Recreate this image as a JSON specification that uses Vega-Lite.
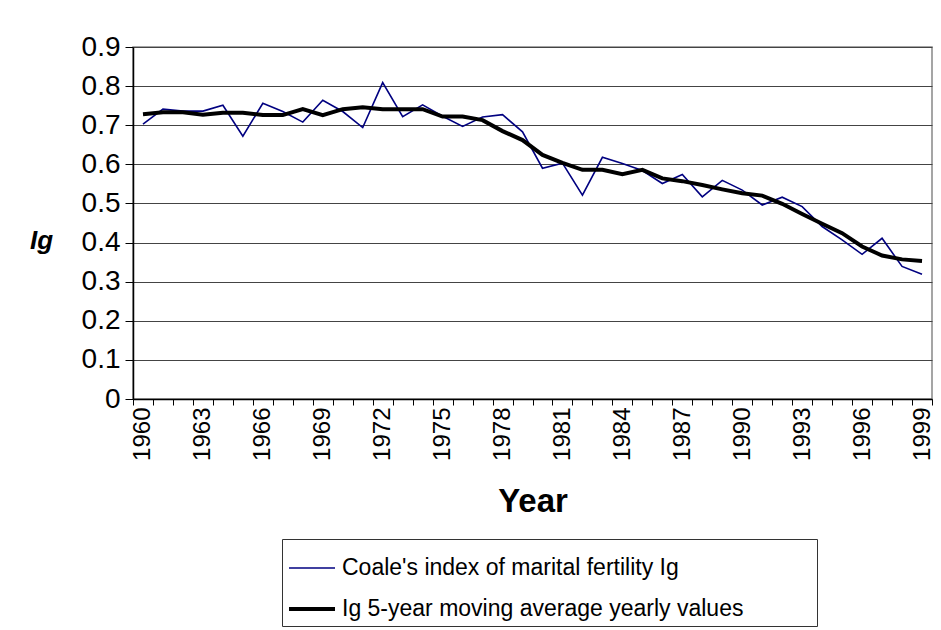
{
  "$schema": "https://vega.github.io/schema/vega-lite/v6.json",
  "autosize": "none",
  "width": 799,
  "height": 352,
  "padding": {"left": 133, "top": 47, "right": 9, "bottom": 231},
  "background": "white",
  "config": {
    "font": "Liberation Sans",
    "view": {"stroke": "#888", "strokeWidth": 1.5}
  },
  "data": {
    "values": [
      {"year": "1960", "ig": 0.703, "ma": 0.728},
      {"year": "1961", "ig": 0.741, "ma": 0.733},
      {"year": "1962", "ig": 0.736, "ma": 0.733},
      {"year": "1963", "ig": 0.736, "ma": 0.727},
      {"year": "1964", "ig": 0.751, "ma": 0.732},
      {"year": "1965", "ig": 0.672, "ma": 0.732},
      {"year": "1966", "ig": 0.756, "ma": 0.726},
      {"year": "1967", "ig": 0.735, "ma": 0.726},
      {"year": "1968", "ig": 0.708, "ma": 0.741},
      {"year": "1969", "ig": 0.764, "ma": 0.726},
      {"year": "1970", "ig": 0.735, "ma": 0.741},
      {"year": "1971", "ig": 0.694, "ma": 0.746},
      {"year": "1972", "ig": 0.809, "ma": 0.741},
      {"year": "1973", "ig": 0.722, "ma": 0.741},
      {"year": "1974", "ig": 0.752, "ma": 0.741},
      {"year": "1975", "ig": 0.723, "ma": 0.722},
      {"year": "1976", "ig": 0.697, "ma": 0.722},
      {"year": "1977", "ig": 0.721, "ma": 0.713},
      {"year": "1978", "ig": 0.727, "ma": 0.685},
      {"year": "1979", "ig": 0.683, "ma": 0.662},
      {"year": "1980", "ig": 0.590, "ma": 0.624},
      {"year": "1981", "ig": 0.603, "ma": 0.604},
      {"year": "1982", "ig": 0.521, "ma": 0.586},
      {"year": "1983", "ig": 0.618, "ma": 0.586},
      {"year": "1984", "ig": 0.602, "ma": 0.575},
      {"year": "1985", "ig": 0.584, "ma": 0.586},
      {"year": "1986", "ig": 0.551, "ma": 0.564},
      {"year": "1987", "ig": 0.574, "ma": 0.557},
      {"year": "1988", "ig": 0.517, "ma": 0.547},
      {"year": "1989", "ig": 0.559, "ma": 0.536},
      {"year": "1990", "ig": 0.534, "ma": 0.526},
      {"year": "1991", "ig": 0.496, "ma": 0.520},
      {"year": "1992", "ig": 0.516, "ma": 0.499},
      {"year": "1993", "ig": 0.492, "ma": 0.473},
      {"year": "1994", "ig": 0.441, "ma": 0.448},
      {"year": "1995", "ig": 0.407, "ma": 0.424},
      {"year": "1996", "ig": 0.370, "ma": 0.390},
      {"year": "1997", "ig": 0.411, "ma": 0.367},
      {"year": "1998", "ig": 0.339, "ma": 0.357},
      {"year": "1999", "ig": 0.319, "ma": 0.353}
    ]
  },
  "transform": [{"fold": ["ig", "ma"], "as": ["series", "value"]}],
  "mark": {"type": "line", "strokeJoin": "miter"},
  "encoding": {
    "x": {
      "field": "year",
      "type": "ordinal",
      "scale": {"type": "band", "paddingInner": 0, "paddingOuter": 0},
      "axis": {
        "title": "Year",
        "titleFontSize": 33,
        "titleFontWeight": "bold",
        "titleColor": "black",
        "titleY": 86,
        "titleBaseline": "top",
        "labelAngle": -90,
        "labelFontSize": 24,
        "labelColor": "black",
        "labelPadding": 2,
        "labelExpr": "(toNumber(datum.value) - 1960) % 3 === 0 ? datum.value : ''",
        "tickBand": "extent",
        "tickSize": 6,
        "tickColor": "black",
        "domainColor": "black",
        "domainWidth": 1.5,
        "grid": false
      }
    },
    "y": {
      "field": "value",
      "type": "quantitative",
      "scale": {"domain": [0, 0.9], "nice": false},
      "axis": {
        "values": [0, 0.1, 0.2, 0.3, 0.4, 0.5, 0.6, 0.7, 0.8, 0.9],
        "format": ".1~f",
        "labelFontSize": 28,
        "labelColor": "black",
        "labelPadding": 5,
        "tickSize": 8,
        "tickColor": "black",
        "domainColor": "black",
        "domainWidth": 1.5,
        "grid": true,
        "gridColor": "#444",
        "gridWidth": 1,
        "title": "Ig",
        "titleFontSize": 26,
        "titleFontStyle": "italic",
        "titleFontWeight": "bold",
        "titleColor": "black",
        "titleAngle": 0,
        "titleAlign": "center",
        "titleBaseline": "middle",
        "titleX": -92,
        "titleY": 193
      }
    },
    "color": {
      "field": "series",
      "type": "nominal",
      "scale": {"domain": ["ig", "ma"], "range": ["#000080", "#000000"]},
      "legend": {
        "orient": "none",
        "legendX": 149,
        "legendY": 492,
        "title": null,
        "symbolType": "stroke",
        "symbolSize": 2116,
        "labelFontSize": 23,
        "labelColor": "black",
        "labelOffset": 5,
        "rowPadding": 4,
        "padding": 5,
        "strokeColor": "#333",
        "fillColor": "white",
        "labelLimit": 800,
        "labelExpr": "datum.value === 'ig' ? \"Coale's index of marital fertility Ig\" : 'Ig 5-year moving average yearly values\u2800\u2800\u2800\u2800'"
      }
    },
    "strokeWidth": {
      "field": "series",
      "type": "nominal",
      "scale": {"domain": ["ig", "ma"], "range": [1.6, 4]},
      "legend": {
        "orient": "none",
        "legendX": 149,
        "legendY": 492,
        "title": null,
        "symbolType": "stroke",
        "symbolSize": 2116,
        "labelFontSize": 23,
        "labelColor": "black",
        "labelOffset": 5,
        "rowPadding": 4,
        "padding": 5,
        "strokeColor": "#333",
        "fillColor": "white",
        "labelLimit": 800,
        "labelExpr": "datum.value === 'ig' ? \"Coale's index of marital fertility Ig\" : 'Ig 5-year moving average yearly values\u2800\u2800\u2800\u2800'"
      }
    }
  }
}
